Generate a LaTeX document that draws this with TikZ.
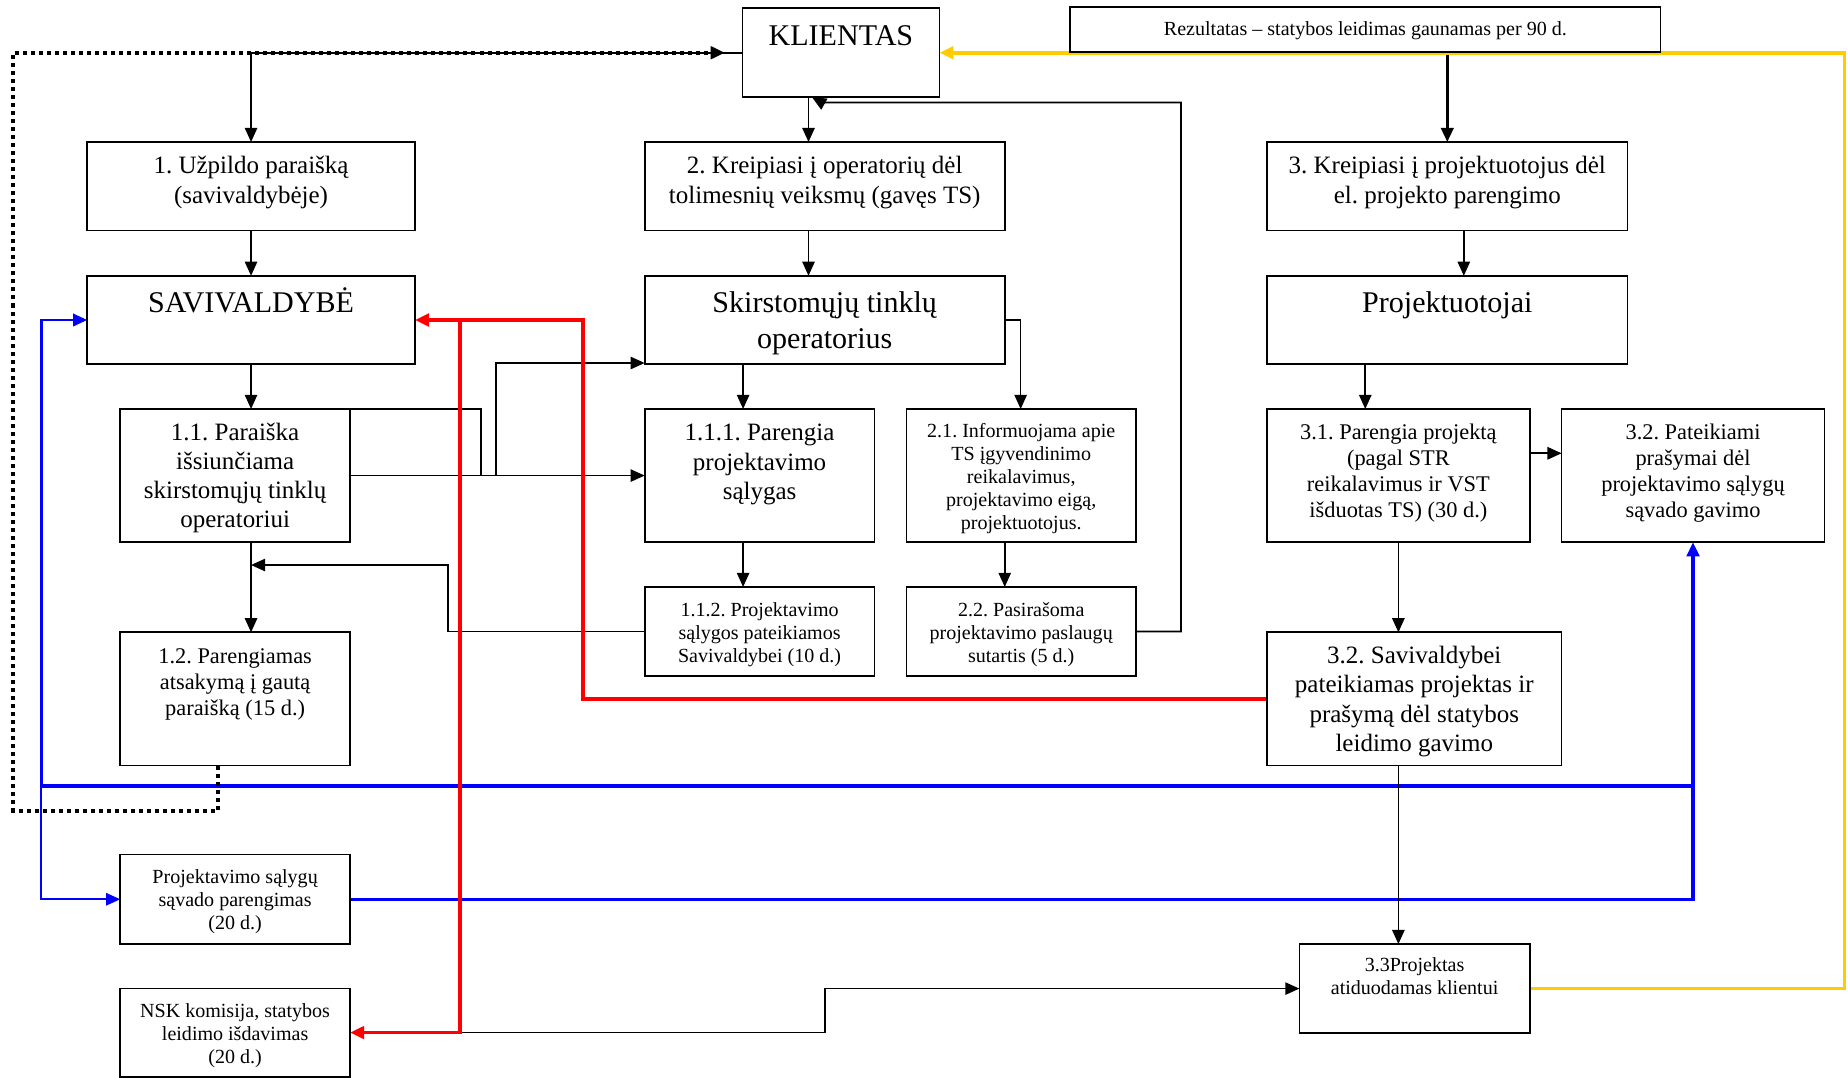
\documentclass[tikz,border=0pt]{standalone}
\usepackage{fontspec}
\setmainfont{Liberation Serif}
\usetikzlibrary{arrows.meta,backgrounds}

\definecolor{gold}{RGB}{255,204,0}

% text sizes used in the boxes
\newcommand\bigtxt{\fontsize{25.5pt}{30pt}\selectfont}
\newcommand\medtxt{\fontsize{21.2pt}{24.8pt}\selectfont}
\newcommand\midtxt{\fontsize{19pt}{22.1pt}\selectfont}
\newcommand\smltxt{\fontsize{17pt}{19.6pt}\selectfont}

% box with top-aligned, centred text:
% name, left x, top y, width, height, size, first baseline, text
\newcommand\tbox[8]{%
  \node[tb] (#1) at (#2,#3)
    {\parbox[t][#5pt][t]{#4pt}{#6\frenchspacing\centering\rule{0pt}{#7pt}#8\par}};}

\tikzset{
  tb/.style={draw, line width=1.4pt, inner sep=0pt, outer sep=0pt, anchor=north west},
  ln/.style={line width=1.4pt},
  thk/.style={line width=2.6pt},
  bluethick/.style={draw=blue, line width=3pt},
  bluemid/.style={draw=blue, line width=2.2pt},
  bluethin/.style={draw=blue, line width=1.6pt},
  redln/.style={draw=red, line width=3pt},
  yelln/.style={draw=gold, line width=3pt},
  dots/.style={line width=3.3pt, dash pattern=on 3.4pt off 3.4pt},
}

\begin{document}
\begin{tikzpicture}[x=1pt, y=-1pt, >={Triangle[length=12pt,width=10.5pt]}]
\useasboundingbox (0,0) rectangle (1568,914);

% ---- boxes ----
\tbox{kl}{630}{7}{167}{75.5}{\bigtxt}{32}{KLIENTAS}
\tbox{rez}{908}{6}{501}{38}{\smltxt}{24}{Rezultatas – statybos leidimas gaunamas per 90 d.}

\tbox{b1}{74}{120.5}{278}{75}{\medtxt}{27}{1. Užpildo paraišką\\(savivaldybėje)}
\tbox{b2}{547}{120.5}{305.5}{75}{\medtxt}{27}{2. Kreipiasi į operatorių dėl\\tolimesnių veiksmų (gavęs TS)}
\tbox{b3}{1075}{120.5}{306}{75}{\medtxt}{27}{3. Kreipiasi į projektuotojus dėl\\el. projekto parengimo}

\tbox{sav}{74}{234}{278}{75}{\bigtxt}{31.5}{SAVIVALDYBĖ}
\tbox{sk}{547}{234}{305.5}{75}{\bigtxt}{31.5}{Skirstomųjų tinklų\\operatorius}
\tbox{pr}{1075}{234}{306}{75}{\bigtxt}{31.5}{Projektuotojai}

\tbox{p11}{102}{347}{195}{113}{\medtxt}{26.5}{1.1. Paraiška\\išsiunčiama\\skirstomųjų tinklų\\operatoriui}
\tbox{p111}{547}{347}{195}{113}{\medtxt}{27}{1.1.1. Parengia\\projektavimo\\sąlygas}
\tbox{p21}{769}{347}{195}{113}{\smltxt}{24}{2.1. Informuojama apie\\TS įgyvendinimo\\reikalavimus,\\projektavimo eigą,\\projektuotojus.}
\tbox{p31}{1075}{347}{223}{113}{\midtxt}{26}{3.1. Parengia projektą\\(pagal STR\\reikalavimus ir VST\\išduotas TS) (30 d.)}
\tbox{p32a}{1325}{347}{223}{113}{\midtxt}{26}{3.2. Pateikiami\\prašymai dėl\\projektavimo sąlygų\\sąvado gavimo}

\tbox{p112}{547}{498}{195}{75.5}{\smltxt}{25}{1.1.2. Projektavimo\\sąlygos pateikiamos\\Savivaldybei (10 d.)}
\tbox{p22}{769}{498}{195}{75.5}{\smltxt}{25}{2.2. Pasirašoma\\projektavimo paslaugų\\sutartis (5 d.)}

\tbox{p12}{102}{536.5}{195}{113}{\midtxt}{26.5}{1.2. Parengiamas\\atsakymą į gautą\\paraišką (15 d.)}
\tbox{p32b}{1075}{536.5}{250}{113}{\medtxt}{26.5}{3.2. Savivaldybei\\pateikiamas projektas ir\\prašymą dėl statybos\\leidimo gavimo}

\tbox{sav20}{102}{725}{195}{76}{\smltxt}{24.5}{Projektavimo sąlygų\\sąvado parengimas\\(20 d.)}
\tbox{nsk}{102}{838.6}{195}{75}{\smltxt}{24.8}{NSK komisija, statybos\\leidimo išdavimas\\(20 d.)}
\tbox{p33}{1102.5}{801}{195.5}{75.6}{\smltxt}{23.5}{3.3Projektas\\atiduodamas klientui}

% ---- routing columns and rows ----
\coordinate (c11) at (11,0);
\coordinate (c35) at (35,0);
\coordinate (c185) at (185,0);
\coordinate (c268) at (268,0);
\coordinate (c380) at (380,0);
\coordinate (c390) at (390.5,0);
\coordinate (c408) at (408,0);
\coordinate (c421) at (421,0);
\coordinate (c494) at (494.5,0);
\coordinate (c630) at (630.5,0);
\coordinate (c686) at (686,0);
\coordinate (c689) at (689,0);
\coordinate (c697) at (697,0);
\coordinate (c700) at (700,0);
\coordinate (c852) at (852.5,0);
\coordinate (c866) at (866,0);
\coordinate (c1002) at (1002,0);
\coordinate (c1158) at (1158.4,0);
\coordinate (c1186) at (1186.5,0);
\coordinate (c1228) at (1228,0);
\coordinate (c1242) at (1242,0);
\coordinate (c1565) at (1565,0);
\coordinate (r87) at (0,87);
\coordinate (r308) at (0,308);
\coordinate (r384) at (0,384.6);
\coordinate (r479) at (0,479.4);
\coordinate (r667) at (0,667);
\coordinate (r688) at (0,687.8);

% ---- connectors ----
\begin{scope}[on background layer]
  % blue: conditions summary
  \draw[bluethick,->] (sav20.east) -| (p32a.south);
  \draw[bluethick] (p32a.south |- r667) -- (c35 |- r667);
  \draw[bluemid,->] (c35 |- r667) |- (sav.west);
  \draw[bluethin,->] (c35 |- r667) |- (sav20.west);

  % black flow
  \draw[ln,->] (kl.west) -| (b1.north);
  \draw[ln,->] (b1.south) -- (sav.north);
  \draw[ln,->] (sav.south) -- (sav.south |- p11.north);
  \draw[ln,->] (sav.south |- p11.south) -- (sav.south |- p12.north);
  \draw[ln,->] (p112.west) -| (c380 |- r479) -- (sav.south |- r479);
  \draw[ln,->] (p11.east) -- (p111.west);
  \draw[ln,->] (c421 |- p11.east) |- (sk.west |- r308);
  \draw[ln] (c268 |- p11.north) -| (c408 |- p11.east);
  \draw[ln,->] (kl.south -| c686) -- (b2.north -| c686);
  \draw[ln,->] (b2.south -| c686) -- (sk.north -| c686);
  \draw[ln,->] (sk.south -| c630) -- (p111.north -| c630);
  \draw[ln,->] (sk.east) -| (p21.north -| c866);
  \draw[ln,->] (p111.south -| c630) -- (p112.north -| c630);
  \draw[ln,->] (p21.south -| c852) -- (p22.north -| c852);
  \draw[ln,->] (p22.east) -| (c1002 |- r87) -- (c697 |- r87) -- (kl.south -| c689);
  \draw[thk,->] (rez.south -| c1228) -- (b3.north -| c1228);
  \draw[ln,->] (b3.south -| c1242) -- (pr.north -| c1242);
  \draw[ln,->] (pr.south -| c1158) -- (p31.north -| c1158);
  \draw[ln,->] (p31.east |- r384) -- (p32a.west |- r384);
  \draw[ln,->] (p31.south -| c1186) -- (p32b.north -| c1186);
  \draw[ln,->] (p32b.south -| c1186) -- (p33.north -| c1186);
  \draw[ln,->] (nsk.east) -| (c700 |- p33.west) -- (p33.west);

  % red: permit request
  \draw[redln,->] (p32b.west) -| (c494 |- sav.east) -- (sav.east);
  \draw[redln,->] (c390 |- sav.east) |- (nsk.east);

  % yellow: project returned to the client
  \draw[yelln,->] (p33.east) -| (c1565 |- kl.east) -- (kl.east);

  % dotted: answer back to the client
  \draw[dots,->,shorten >=15pt] (c185 |- p12.south) |- (c11 |- r688) |- (kl.west);
\end{scope}
\end{tikzpicture}
\end{document}
